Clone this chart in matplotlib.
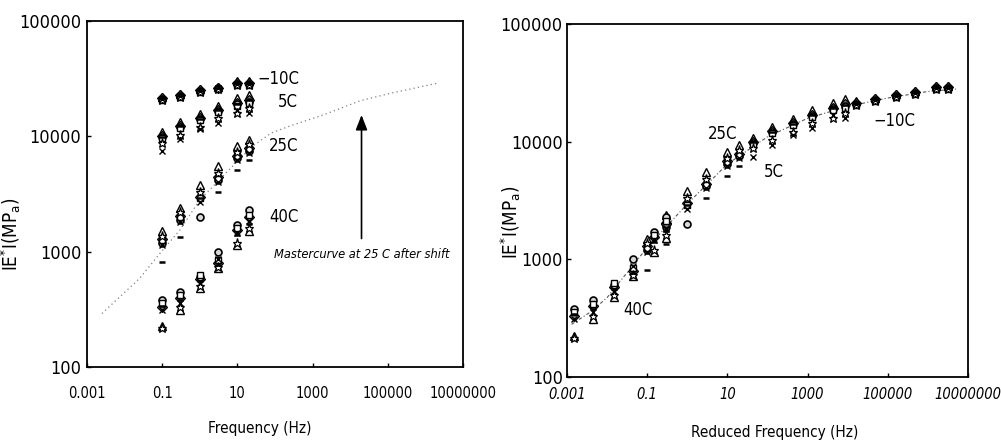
import matplotlib
matplotlib.use("Agg")
import matplotlib.pyplot as plt
import numpy as np

plt.rcParams['font.family'] = ['DejaVu Sans']
plt.rcParams['font.stretch'] = 'condensed'
plt.rcParams['mathtext.fontset'] = 'dejavusans'

# ---------------- data ----------------
freq = [0.1, 0.3, 1, 3, 10, 20]
temps = ['-10C', '5C', '25C', '40C']
log_shift = {'-10C': 5.2, '5C': 2.64, '25C': 0.0, '40C': -1.83}

markers = ['^', 'D', 'o', 's', '*', 'x', '_']

E_m10 = {
    '^': [22000, 23500, 25500, 27000, 30000, 30000],
    'D': [21500, 23000, 25000, 26500, 29000, 29000],
    'o': [21000, 22500, 24500, 26000, 28500, 28500],
    's': [20500, 22000, 24000, 25500, 28000, 28000],
    '*': [20500, 22000, 24000, 25500, 28000, 28000],
    'x': [21000, 22500, 24500, 26000, 28500, 28500],
    '_': [21500, 23000, 25000, 26500, 29000, 29000],
}
E_5 = {
    '^': [10800, 13200, 15500, 18500, 21500, 23000],
    'D': [10000, 12400, 14400, 17000, 19500, 20800],
    'o': [9800, 12000, 14000, 16500, 19000, 20000],
    's': [9600, 11800, 13800, 16200, 18500, 19500],
    '*': [8800, 10300, 12000, 14500, 16000, 17500],
    'x': [7400, 9400, 11500, 13000, 17000, 16000],
    '_': [9900, 12200, 14200, 16800, 19200, 20500],
}
E_25 = {
    '^': [1500, 2400, 3800, 5500, 8200, 9300],
    'D': [1300, 2050, 3000, 4400, 6800, 7900],
    'o': [1200, 1900, 1990, 4200, 6500, 7500],
    's': [1250, 2000, 2900, 4300, 6700, 7700],
    '*': [1380, 2200, 3300, 4800, 7300, 8500],
    'x': [1150, 1800, 2700, 4000, 6200, 7200],
    '_': [810, 1350, 2900, 3320, 5060, 6270],
}
E_40 = {
    '^': [225, 311, 480, 715, 1150, 1520],
    'D': [330, 400, 580, 800, 1550, 2000],
    'o': [380, 450, 600, 1000, 1700, 2300],
    's': [360, 420, 630, 850, 1600, 2100],
    '*': [216, 330, 500, 730, 1200, 1600],
    'x': [311, 360, 540, 870, 1450, 1850],
    '_': [340, 380, 560, 760, 1400, 1750],
}
E_data = {'-10C': E_m10, '5C': E_5, '25C': E_25, '40C': E_40}

# master curve
mc_left_f = [0.0025, 0.025, 0.1, 0.3, 1, 6, 25, 80, 270, 2000, 18000, 110000, 2.2e6]
mc_left_E = [291, 586, 1020, 1550, 2810, 5130, 8190, 10700, 12400, 15400, 20300, 23500, 29000]
# master curve
mc_right_f = [0.0013, 0.004, 0.01, 0.1, 1, 10, 100, 1000, 1e4, 1e5, 1e6, 5e6]
mc_right_E = [280, 360, 473, 1260, 2960, 6450, 11000, 15800, 19900, 23500, 26700, 28000]

xticks = [0.001, 0.1, 10, 1000, 100000, 10000000]
xticklabels = ['0.001', '0.1', '10', '1000', '100000', '10000000']
yticks = [100, 1000, 10000, 100000]
yticklabels = ['100', '1000', '10000', '100000']

# ---------------- figure ----------------
fig = plt.figure(figsize=(10.01, 4.42), dpi=100)
W, H = 1001, 442
axL = fig.add_axes([87 / W, 1 - 367 / H, (463 - 87) / W, (367 - 21) / H])
axR = fig.add_axes([567 / W, 1 - 377 / H, (968 - 567) / W, (377 - 24) / H])

mstyle = {
    '^': dict(ms=5.5, mfc='white', mec='black', mew=1.0),
    'D': dict(ms=5, mfc='0.5', mec='black', mew=0.9),
    'o': dict(ms=5, mfc='0.85', mec='black', mew=1.2),
    's': dict(ms=4.5, mfc='white', mec='black', mew=1.0),
    '*': dict(ms=6.5, mfc='white', mec='black', mew=0.9),
    'x': dict(ms=4.5, mfc='none', mec='black', mew=1.0),
    '_': dict(ms=4, mfc='none', mec='black', mew=1.8),
}

def draw_points(ax, shifted):
    for t in temps:
        fs = np.array(freq, dtype=float)
        if shifted:
            fs = fs * 10 ** log_shift[t]
        for m in markers:
            ax.plot(fs, E_data[t][m], linestyle='none', marker=m, **mstyle[m], zorder=3)

for ax in (axL, axR):
    ax.set_xscale('log')
    ax.set_yscale('log')
    ax.set_xlim(0.001, 1e7)
    ax.set_ylim(100, 100000)
    ax.set_xticks(xticks)
    ax.set_yticks(yticks)
    ax.set_yticklabels(yticklabels)
    ax.minorticks_off()
    ax.tick_params(direction='in', length=3, width=1)
    ax.tick_params(axis='y', labelsize=13)
    ax.tick_params(axis='x', labelsize=10.5)
    for s in ax.spines.values():
        s.set_linewidth(1.3)
        s.set_color('black')

axL.set_xticklabels(xticklabels)
axR.set_xticklabels(xticklabels, style='italic')
axL.tick_params(axis='x', pad=14)
axR.tick_params(axis='x', pad=7)
axL.tick_params(axis='y', pad=4)
axR.tick_params(axis='y', pad=3)

# left panel
axL.plot(mc_left_f, mc_left_E, color='0.5', linestyle=(0, (1, 2.5)), linewidth=0.9, zorder=2)
draw_points(axL, shifted=False)
axL.text(35, 31300, '\u221210C', fontsize=12, va='center', ha='left')
axL.text(120, 20000, '5C', fontsize=12, va='center', ha='left')
axL.text(70, 8200, '25C', fontsize=12, va='center', ha='left')
axL.text(70, 2000, '40C', fontsize=12, va='center', ha='left')
axL.annotate('', xy=(20000, 16200), xytext=(20000, 1230),
             arrowprops=dict(arrowstyle='-|>,head_width=0.35,head_length=0.9',
                             color='black', lw=1.2))
axL.text(20000, 950, 'Mastercurve at 25 C after shift', fontsize=9.2,
         style='italic', ha='center', va='center')
axL.set_xlabel('Frequency (Hz)', fontsize=11)
axL.xaxis.set_label_coords(0.46, -0.155)
axL.set_ylabel(r'IE$^{*}$I(MP$_{\mathrm{a}}$)', fontsize=13.5)
axL.yaxis.set_label_coords(-0.17, 0.385)

# right panel
axR.plot(mc_right_f, mc_right_E, color='0.35', linestyle=(0, (3, 2, 1, 2)), linewidth=0.8, zorder=2)
draw_points(axR, shifted=True)
axR.text(3.3, 11700, '25C', fontsize=12, va='center', ha='left')
axR.text(81, 5500, '5C', fontsize=12, va='center', ha='left')
axR.text(4.3e4, 15000, '\u221210C', fontsize=12, va='center', ha='left')
axR.text(0.025, 370, '40C', fontsize=12, va='center', ha='left')
axR.set_xlabel('Reduced Frequency (Hz)', fontsize=11)
axR.xaxis.set_label_coords(0.519, -0.135)
axR.set_ylabel(r'IE$^{*}$I(MP$_{\mathrm{a}}$)', fontsize=13.5)
axR.yaxis.set_label_coords(-0.11, 0.44)

fig.savefig('out.png', dpi=100)
